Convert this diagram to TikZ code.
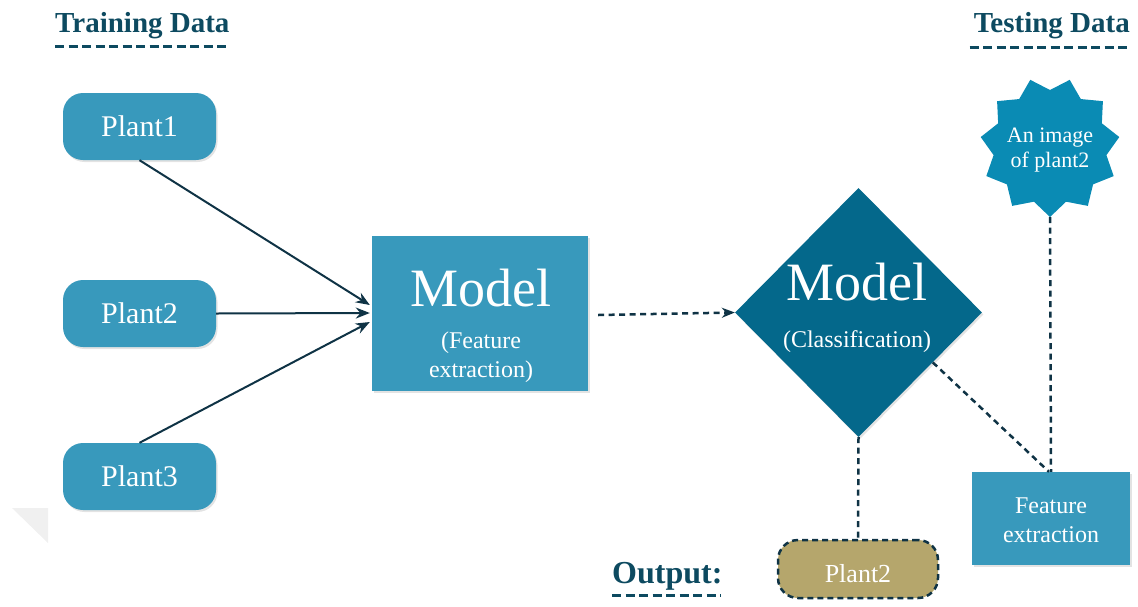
\documentclass[tikz,border=0pt]{standalone}
\usepackage{fontspec}
\setmainfont{Liberation Serif}
\usetikzlibrary{arrows.meta,shapes.geometric,calc,shadows}
\definecolor{boxblue}{HTML}{3899BC}
\definecolor{diafill}{HTML}{04688B}
\definecolor{starfill}{HTML}{0A8BB4}
\definecolor{titlecol}{HTML}{0D4A60}
\definecolor{linecol}{HTML}{0F3345}
\definecolor{outfill}{HTML}{B5A66C}
\tikzset{
  shadowed/.style={drop shadow={opacity=0.22,shadow xshift=1.5pt,shadow yshift=-2pt}},
  plantbox/.style={rounded corners=20pt, fill=boxblue, minimum width=153pt, minimum height=67pt, inner sep=0pt, text=white, font=\fontsize{30}{30}\selectfont, shadowed},
  sqbox/.style={fill=boxblue, inner sep=0pt, shadowed},
  lbl/.style={text=white, inner sep=0pt, anchor=base},
  title/.style={text=titlecol, inner sep=0pt, font=\bfseries\fontsize{29}{29}\selectfont},
  uline/.style={draw=titlecol, line width=3pt, dash pattern=on 9pt off 4.5pt},
  solidarrow/.style={draw=linecol, line width=2pt, -{Stealth[length=14pt,width=11pt]}},
  dashconn/.style={draw=linecol, line width=2.5pt, dash pattern=on 6pt off 4.5pt},
}
\begin{document}
\begin{tikzpicture}[x=1pt,y=-1pt]
\useasboundingbox (0,0) rectangle (1138,606);

% faint grey corner
\fill[gray!12] (12,508) -- (48,508) -- (48,543) -- cycle;

% titles
\node[title, anchor=base west] (train) at (55,32) {Training Data};
\draw[uline] ($(train.base west)+(0,14)$) -- ($(train.base east)+(0,14)$);
\node[title, anchor=base east] (test) at (1130,32) {Testing Data};
\draw[uline] ($(test.base west)+(-4,15)$) -- ($(test.base east)+(0,15)$);
\node[title, anchor=base west, font=\bfseries\fontsize{32}{32}\selectfont] (outl) at (612,583) {Output:};
\draw[uline] ($(outl.base west)+(0,12)$) -- ($(outl.base east)+(-2,12)$);

% plant boxes
\node[plantbox] (p1) at (139.5,126.5) {Plant1};
\node[plantbox] (p2) at (139.5,313.5) {Plant2};
\node[plantbox] (p3) at (139.5,476.5) {Plant3};

% model box
\node[sqbox, minimum width=216pt, minimum height=155pt] (m) at (480,313.5) {};
\node[lbl, font=\fontsize{54}{54}\selectfont] (mt) at (481,306) {Model};
\node[lbl, font=\fontsize{24}{24}\selectfont] (mt2) at (481,348) {(Feature};
\node[lbl, font=\fontsize{24}{24}\selectfont] (mt3) at (481,377) {extraction)};

% arrows to model
\draw[solidarrow] (p1.south) -- ($(m.west)+(-2,-8.5)$);
\draw[solidarrow] (p2.east) -- ($(m.west)+(-2,-0.5)$);
\draw[solidarrow] (p3.north) -- ($(m.west)+(-2,8.5)$);

% diamond
\node[diamond, fill=diafill, minimum width=247pt, minimum height=249pt, inner sep=0pt, shadowed] (d) at (858.5,312.5) {};
\node[lbl, font=\fontsize{54}{54}\selectfont] (dt) at (857,300) {Model};
\node[lbl, font=\fontsize{24}{24}\selectfont] (dt2) at (857,347) {(Classification)};

% dashed arrow model -> diamond
\draw[dashconn, -{Stealth[length=13pt,width=10pt]}] ($(m.east)+(10,1.5)$) -- (d.west);

% star
\fill[starfill, shift={(1050,147)}] (90:70)
  \foreach \i in {0,...,10} { -- (90+\i*32.7273:70) -- (90+\i*32.7273+16.3636:57) } -- cycle;
\coordinate (starb) at (1050,217);
\node[lbl, font=\fontsize{22}{22}\selectfont] (st1) at (1050,142) {An image};
\node[lbl, font=\fontsize{22}{22}\selectfont] (st2) at (1050,167) {of plant2};

% feature extraction box
\node[sqbox, minimum width=158pt, minimum height=93pt] (fe) at (1051,518.5) {};
\node[lbl, font=\fontsize{24}{24}\selectfont] (fe1) at (1051,513) {Feature};
\node[lbl, font=\fontsize{24}{24}\selectfont] (fe2) at (1051,542) {extraction};

% output box
\node[rounded corners=20pt, fill=outfill, draw=linecol, line width=2.5pt, dash pattern=on 6pt off 4pt, minimum width=160pt, minimum height=58pt, inner sep=0pt] (out) at (858,569) {};
\node[lbl, font=\fontsize{26}{26}\selectfont] (outt) at (858,582) {Plant2};

% dashed connectors
\draw[dashconn] (d.south) -- (out.north);
\draw[dashconn] (starb) -- (fe.north);
\draw[dashconn] ($(d.east)!0.4!(d.south)$) -- ($(fe.north)+(-2,0)$);
\end{tikzpicture}
\end{document}
